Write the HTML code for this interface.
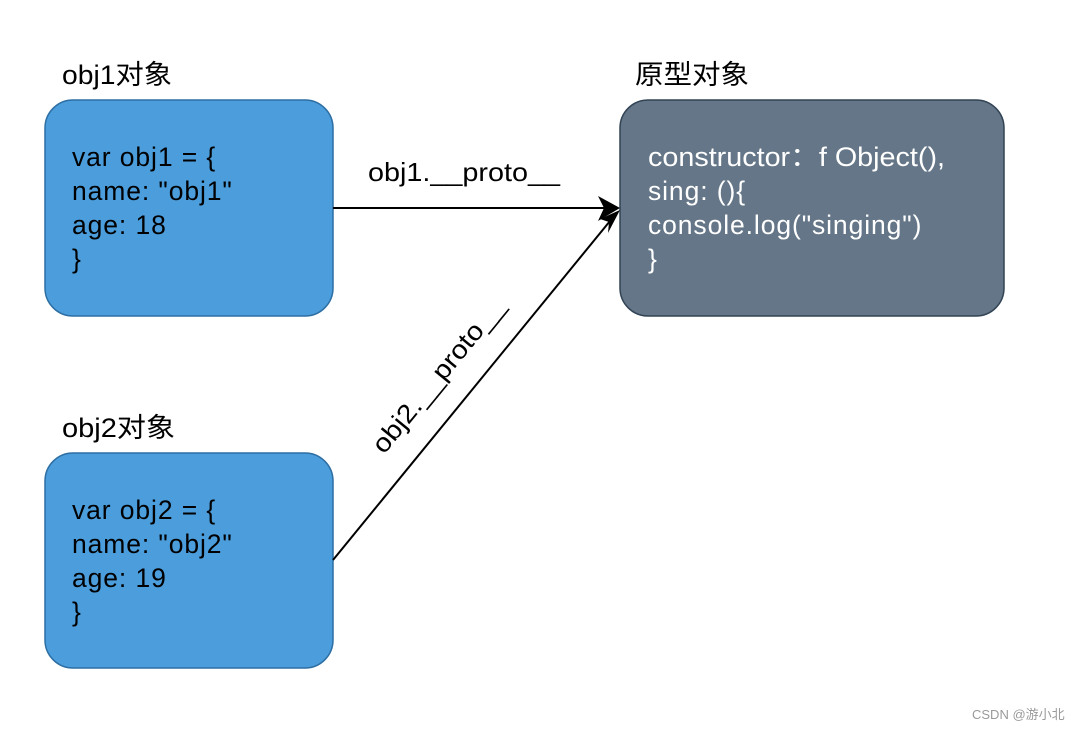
<!DOCTYPE html>
<html><head><meta charset="utf-8"><style>
body{margin:0;background:#fff;}
svg text{font-family:"Liberation Sans","Noto Sans CJK SC",sans-serif;}
</style></head><body>
<svg width="1086" height="730" xmlns="http://www.w3.org/2000/svg">
<rect width="1086" height="730" fill="#fff"/>
<rect x="45" y="100" width="288" height="216" rx="28" fill="#4b9ddc" stroke="#2d6ea3" stroke-width="1.5"/>
<rect x="45" y="453" width="288" height="215" rx="28" fill="#4b9ddc" stroke="#2d6ea3" stroke-width="1.5"/>
<rect x="620" y="100" width="384" height="216" rx="28" fill="#647687" stroke="#314354" stroke-width="1.5"/>
<g font-size="27" fill="#000">
<text x="62" y="84" textLength="110" lengthAdjust="spacingAndGlyphs">obj1对象</text>
<text x="62" y="437" textLength="113" lengthAdjust="spacingAndGlyphs">obj2对象</text>
<text x="635" y="84" textLength="114" lengthAdjust="spacingAndGlyphs">原型对象</text>
</g>
<g font-size="26.5" fill="#000" letter-spacing="0.9">
<text x="72" y="166">var obj1 = {</text>
<text x="72" y="200">name: "obj1"</text>
<text x="72" y="234">age: 18</text>
<text x="72" y="268">}</text>
<text x="72" y="519">var obj2 = {</text>
<text x="72" y="553">name: "obj2"</text>
<text x="72" y="587">age: 19</text>
<text x="72" y="621">}</text>
</g>
<g font-size="26.5" fill="#fff" letter-spacing="0.9">
<text x="648" y="166" textLength="297" lengthAdjust="spacingAndGlyphs" letter-spacing="0">constructor：f Object(),</text>
<text x="648" y="200">sing: (){</text>
<text x="648" y="234">console.log("singing")</text>
<text x="648" y="268">}</text>
</g>
<line x1="333" y1="208" x2="606" y2="208" stroke="#000" stroke-width="2"/>
<line x1="333" y1="560" x2="610" y2="221" stroke="#000" stroke-width="2"/>
<polygon points="620,208 598,196 604,208 598,221" fill="#000"/>
<polygon points="620,210 600,219 609,222 608,233" fill="#000"/>
<text x="368" y="181" font-size="26" textLength="192" lengthAdjust="spacingAndGlyphs">obj1.__proto__</text>
<text x="0" y="0" font-size="26" textLength="192" lengthAdjust="spacingAndGlyphs" transform="translate(384,455) rotate(-50.7)">obj2.__proto__</text>
<text x="972" y="719" font-size="13" fill="#9a9a9a">CSDN @游小北</text>
</svg>
</body></html>
